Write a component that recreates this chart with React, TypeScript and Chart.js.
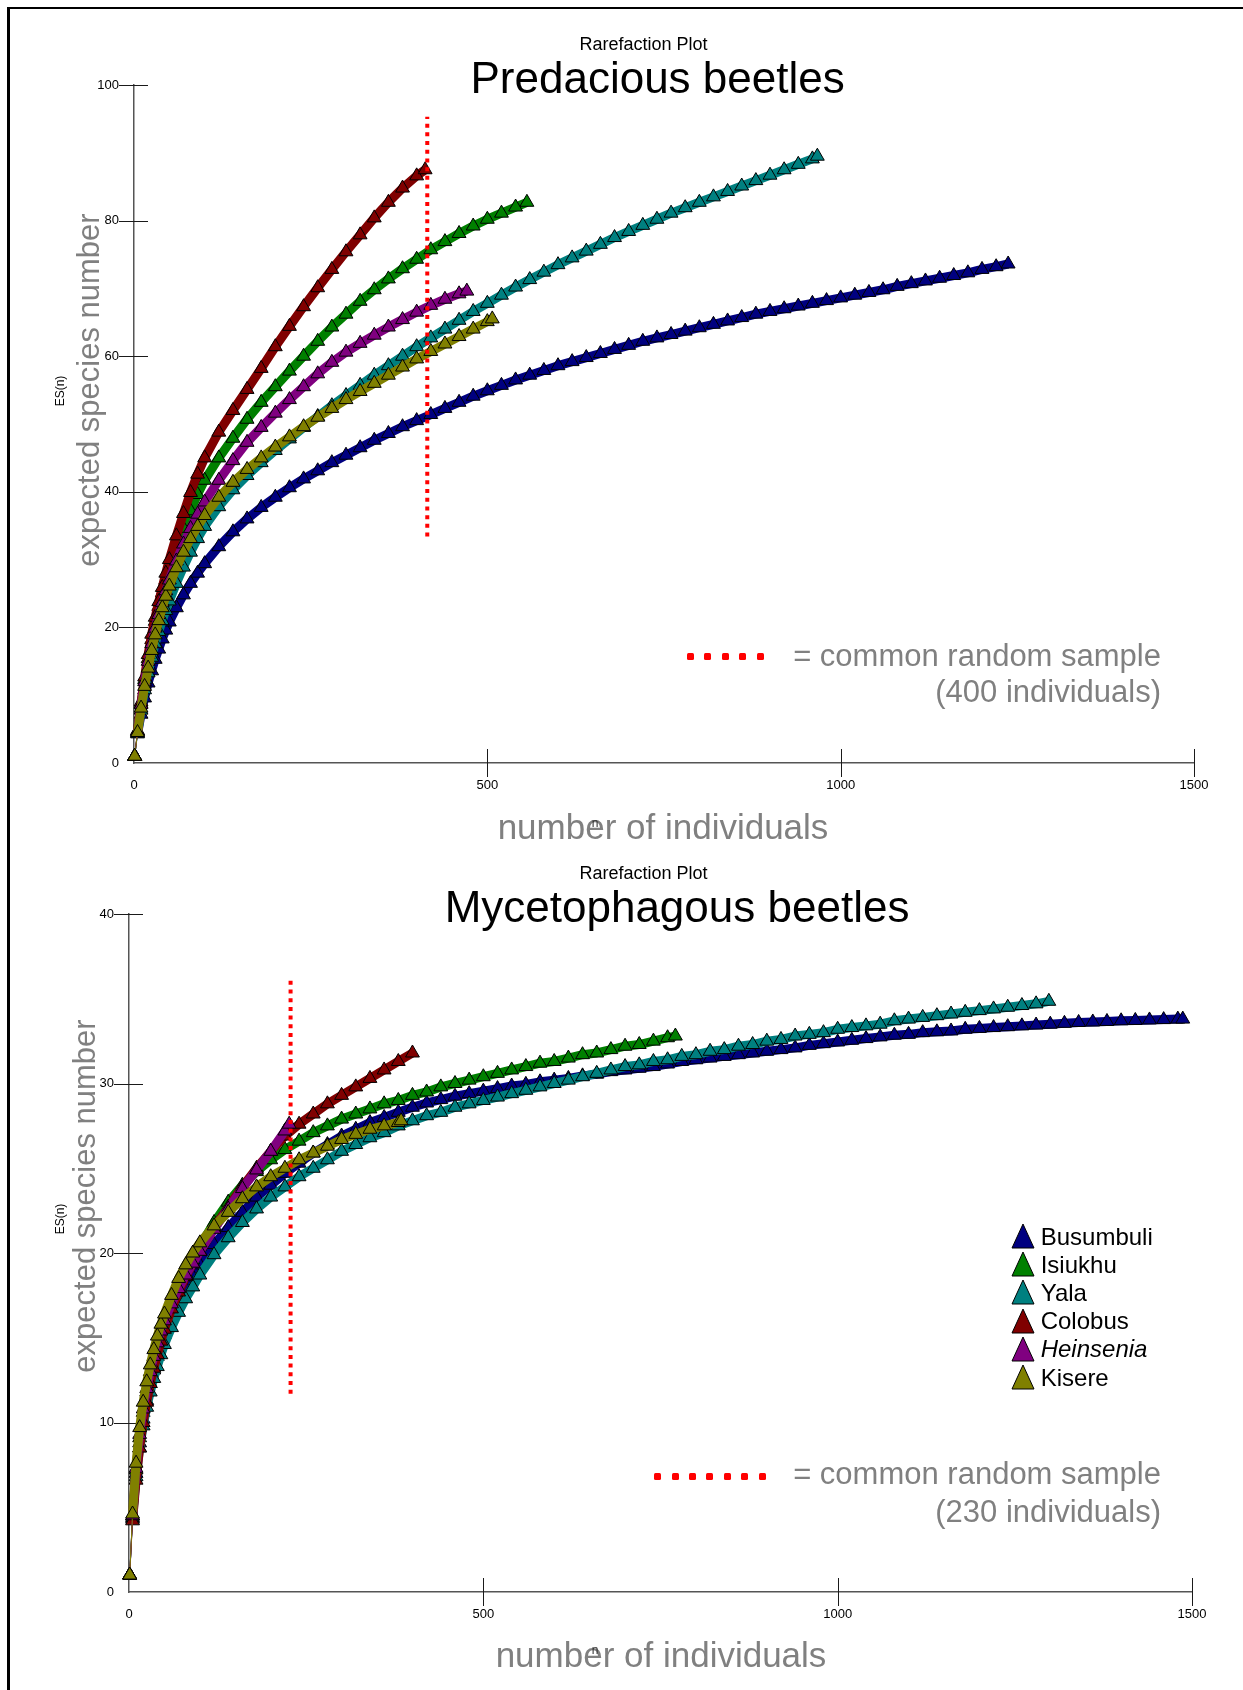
import React, { useEffect, useRef } from 'react';
import { Chart, registerables } from 'chart.js';

Chart.register(...registerables);

const FONT = '"Liberation Sans", Arial, Helvetica, sans-serif';
const GRAY = '#808080';

// ---------- shared ----------
const siteNames = ['Busumbuli', 'Isiukhu', 'Yala', 'Colobus', 'Heinsenia', 'Kisere'];
const siteColors = ['#000080', '#008000', '#008080', '#800000', '#800080', '#808000'];
const xTickValues = [0, 500, 1000, 1500];

// ---------- Predacious beetles ----------
const predYTickValues = [0, 20, 40, 60, 80, 100];
const predN = [1, 5, 10, 15, 20, 25, 30, 35, 40, 45, 50, 60, 70, 80, 90, 100,
  120, 140, 160, 180, 200, 220, 240, 260, 280, 300, 320, 340, 360, 380, 400, 420, 440, 460, 480, 500,
  520, 540, 560, 580, 600, 620, 640, 660, 680, 700, 720, 740, 760, 780, 800, 820, 840, 860, 880, 900,
  920, 940, 960, 980, 1000, 1020, 1040, 1060, 1080, 1100, 1120, 1140, 1160, 1180, 1200, 1220];
const predBusumbuli = [1, 4.3, 7.2, 9.6, 11.8, 13.6, 15.3, 16.8, 18.3, 19.6, 20.8, 22.9, 24.8, 26.5, 28.0, 29.4,
  31.9, 34.1, 36.0, 37.7, 39.2, 40.6, 41.9, 43.1, 44.3, 45.4, 46.5, 47.6, 48.6, 49.6, 50.5, 51.4, 52.3, 53.2, 54.1, 54.9,
  55.7, 56.5, 57.2, 57.9, 58.6, 59.2, 59.8, 60.4, 61.0, 61.6, 62.2, 62.7, 63.2, 63.7, 64.2, 64.7, 65.2, 65.7, 66.2, 66.6,
  67.0, 67.4, 67.8, 68.2, 68.6, 69.0, 69.4, 69.8, 70.3, 70.7, 71.1, 71.5, 71.9, 72.3, 72.8, 73.2];
const predIsiukhu = [1, 4.7, 8.7, 12.3, 15.4, 18.2, 20.9, 23.1, 25.1, 27.0, 28.7, 31.8, 34.6, 37.2, 39.6, 41.7,
  45.0, 47.9, 50.7, 53.2, 55.5, 57.8, 60.0, 62.2, 64.3, 66.2, 68.1, 69.8, 71.4, 72.9, 74.3, 75.7, 76.9, 78.1, 79.2, 80.2,
  81.1, 82.0];
const predYala = [1, 4.4, 7.8, 10.8, 13.3, 15.6, 17.6, 19.4, 21.0, 22.5, 23.9, 26.5, 28.9, 31.1, 33.1, 34.9,
  37.8, 40.3, 42.4, 44.3, 46.1, 47.8, 49.5, 51.1, 52.7, 54.2, 55.7, 57.2, 58.6, 60.0, 61.4, 62.7, 64.0, 65.3, 66.6, 67.8,
  69.0, 70.2, 71.3, 72.4, 73.5, 74.5, 75.5, 76.5, 77.5, 78.4, 79.3, 80.2, 81.1, 81.9, 82.7, 83.5, 84.3, 85.1, 85.9, 86.7,
  87.5, 88.3, 89.1];
const predColobus = [1, 4.8, 9.0, 12.7, 16.0, 19.0, 21.5, 23.8, 25.9, 28.0, 30.0, 33.5, 36.8, 39.9, 42.6, 45.0,
  48.8, 52.0, 55.1, 58.2, 61.4, 64.4, 67.3, 70.1, 72.8, 75.4, 77.9, 80.4, 82.7, 84.8, 86.6];
const predHeinsenia = [1, 4.6, 8.6, 12.0, 15.0, 17.6, 19.9, 21.9, 23.7, 25.4, 27.0, 29.8, 32.3, 34.6, 36.7, 38.5,
  41.7, 44.6, 47.3, 49.5, 51.6, 53.6, 55.5, 57.4, 59.1, 60.6, 61.9, 63.1, 64.3, 65.4, 66.5, 67.5, 68.4, 69.2];
const predKisere = [1, 4.5, 8.1, 11.3, 14.0, 16.6, 18.9, 21.0, 22.9, 24.6, 26.1, 28.8, 31.1, 33.1, 34.9, 36.5,
  39.2, 41.4, 43.3, 45.0, 46.6, 48.1, 49.6, 51.0, 52.3, 53.6, 54.8, 56.0, 57.2, 58.4, 59.6, 60.7, 61.8, 62.9, 64.0, 65.1];
const predEndN = [1237, 556, 967, 412, 471, 507];
const predEndES = [73.6, 82.7, 89.5, 87.5, 69.6, 65.5];
const predCommonN = 415;
const predCommonES = [33.4, 95.3];

// ---------- Mycetophagous beetles ----------
const mycoYTickValues = [0, 10, 20, 30, 40];
const mycoN = [1, 5, 10, 15, 20, 25, 30, 35, 40, 45, 50, 60, 70, 80, 90, 100,
  120, 140, 160, 180, 200, 220, 240, 260, 280, 300, 320, 340, 360, 380, 400, 420, 440, 460, 480, 500,
  520, 540, 560, 580, 600, 620, 640, 660, 680, 700, 720, 740, 760, 780, 800, 820, 840, 860, 880, 900,
  920, 940, 960, 980, 1000, 1020, 1040, 1060, 1080, 1100, 1120, 1140, 1160, 1180, 1200, 1220, 1240, 1260,
  1280, 1300, 1320, 1340, 1360, 1380, 1400, 1420, 1440, 1460, 1480];
const mycoBusumbuli = [1, 4.4, 7.0, 8.8, 10.2, 11.3, 12.3, 13.1, 13.9, 14.6, 15.2, 16.2, 17.1, 17.9, 18.6, 19.3,
  20.5, 21.5, 22.4, 23.3, 24.0, 24.7, 25.3, 25.9, 26.4, 26.9, 27.3, 27.7, 28.0, 28.3, 28.6, 28.85, 29.05, 29.25, 29.4, 29.55,
  29.7, 29.85, 29.95, 30.1, 30.2, 30.3, 30.45, 30.55, 30.7, 30.8, 30.9, 31.0, 31.15, 31.3, 31.4, 31.5, 31.6, 31.7, 31.8, 31.9,
  32.0, 32.1, 32.25, 32.35, 32.45, 32.55, 32.65, 32.75, 32.85, 32.9, 33.0, 33.05, 33.1, 33.2, 33.25, 33.3, 33.35, 33.4,
  33.45, 33.5, 33.55, 33.6, 33.63, 33.66, 33.7, 33.72, 33.75, 33.77, 33.8];
const mycoIsiukhu = [1, 4.5, 7.2, 9.1, 10.6, 11.8, 12.8, 13.7, 14.5, 15.2, 15.8, 16.9, 17.9, 18.8, 19.6, 20.4,
  21.8, 23.0, 24.0, 24.8, 25.5, 26.1, 26.6, 27.1, 27.5, 27.9, 28.2, 28.5, 28.8, 29.0, 29.3, 29.5, 29.8, 30.0, 30.2, 30.4,
  30.6, 30.8, 31.0, 31.2, 31.3, 31.5, 31.7, 31.8, 32.0, 32.2, 32.3, 32.5, 32.7];
const mycoYala = [1, 4.3, 6.8, 8.5, 9.8, 10.9, 11.8, 12.6, 13.3, 14.0, 14.6, 15.6, 16.5, 17.3, 18.0, 18.7,
  19.9, 20.9, 21.8, 22.6, 23.3, 23.9, 24.5, 25.0, 25.5, 26.0, 26.4, 26.8, 27.1, 27.5, 27.8, 28.1, 28.3, 28.6, 28.8, 29.0,
  29.2, 29.4, 29.6, 29.8, 30.0, 30.2, 30.4, 30.6, 30.8, 31.0, 31.1, 31.3, 31.4, 31.6, 31.7, 31.9, 32.0, 32.2, 32.3, 32.5,
  32.6, 32.8, 32.9, 33.0, 33.2, 33.3, 33.4, 33.5, 33.7, 33.8, 33.9, 34.0, 34.1, 34.2, 34.3, 34.4, 34.5, 34.6, 34.7];
const mycoColobus = [1, 4.2, 6.6, 8.5, 10.0, 11.2, 12.3, 13.2, 14.0, 14.8, 15.5, 16.7, 17.7, 18.6, 19.4, 20.1,
  21.5, 22.7, 23.9, 25.0, 26.0, 26.9, 27.6, 28.2, 28.8, 29.3, 29.8, 30.3, 30.8, 31.3];
const mycoHeinsenia = [1, 4.5, 7.3, 9.3, 10.8, 12.0, 13.0, 13.9, 14.7, 15.4, 16.0, 17.0, 17.9, 18.7, 19.4, 20.1,
  21.4, 22.6, 23.8, 24.9, 26.0, 27.2];
const mycoKisere = [1, 4.6, 7.6, 9.7, 11.2, 12.4, 13.4, 14.3, 15.1, 15.8, 16.4, 17.5, 18.5, 19.3, 20.0, 20.6,
  21.6, 22.4, 23.2, 23.9, 24.5, 25.0, 25.5, 25.9, 26.3, 26.7, 27.0, 27.3, 27.5, 27.7];
const mycoEndN = [1487, 771, 1298, 400, 226, 384];
const mycoEndES = [33.8, 32.8, 34.85, 31.8, 27.6, 27.8];
const mycoCommonN = 228;
const mycoCommonES = [11.7, 36.3];

type Panel = {
  n: number[];
  series: number[][];
  endN: number[];
  endES: number[];
  yTicks: number[];
  commonN: number;
  commonES: number[];
  width: number;
  height: number;
  pad: { left: number; top: number; right: number; bottom: number };
  yAxisWidth: number;
  xAxisHeight: number;
};

const predPanel: Panel = {
  n: predN,
  series: [predBusumbuli, predIsiukhu, predYala, predColobus, predHeinsenia, predKisere],
  endN: predEndN,
  endES: predEndES,
  yTicks: predYTickValues,
  commonN: predCommonN,
  commonES: predCommonES,
  width: 1243,
  height: 850,
  pad: { left: 0, top: 85, right: 49, bottom: 47 },
  yAxisWidth: 134,
  xAxisHeight: 40,
};

const mycoPanel: Panel = {
  n: mycoN,
  series: [mycoBusumbuli, mycoIsiukhu, mycoYala, mycoColobus, mycoHeinsenia, mycoKisere],
  endN: mycoEndN,
  endES: mycoEndES,
  yTicks: mycoYTickValues,
  commonN: mycoCommonN,
  commonES: mycoCommonES,
  width: 1243,
  height: 840,
  pad: { left: 0, top: 64, right: 51, bottom: 58 },
  yAxisWidth: 129,
  xAxisHeight: 40,
};

const crossTicks = {
  id: 'crossTicks',
  beforeDatasetsDraw(chart: any) {
    const ctx = chart.ctx;
    const area = chart.chartArea;
    const xs = chart.scales.x;
    const ys = chart.scales.y;
    ctx.save();
    ctx.strokeStyle = '#1a1a1a';
    ctx.lineWidth = 1;
    ctx.beginPath();
    ys.ticks.forEach((t: any) => {
      if (t.value === 0) return;
      const py = Math.round(ys.getPixelForValue(t.value)) + 0.5;
      ctx.moveTo(area.left - 15, py);
      ctx.lineTo(area.left + 14, py);
    });
    xs.ticks.forEach((t: any) => {
      if (t.value === 0) return;
      const px = Math.round(xs.getPixelForValue(t.value)) + 0.5;
      ctx.moveTo(px, area.bottom - 14);
      ctx.lineTo(px, area.bottom + 14);
    });
    ctx.stroke();
    ctx.restore();
  },
};

function RareChart({ panel, top }: { panel: Panel; top: number }) {
  const ref = useRef<HTMLCanvasElement>(null);
  useEffect(() => {
    if (!ref.current) return;
    const datasets: any[] = panel.series.map((ys, i) => {
      const pts = ys.map((y, j) => ({ x: panel.n[j], y }));
      pts.push({ x: panel.endN[i], y: panel.endES[i] });
      return {
        label: siteNames[i],
        data: pts,
        showLine: true,
        borderColor: siteColors[i],
        backgroundColor: siteColors[i],
        borderWidth: 9,
        borderJoinStyle: 'round',
        borderCapStyle: 'butt',
        segment: {
          borderWidth: (c: any) => (c.p0DataIndex === 0 ? 1 : 9),
        },
        pointStyle: 'triangle',
        pointRadius: 8,
        pointHoverRadius: 8,
        pointBackgroundColor: siteColors[i],
        pointBorderColor: '#000000',
        pointBorderWidth: 1,
        clip: false,
        order: siteNames.length - i,
      };
    });
    datasets.push({
      label: 'common random sample',
      data: [
        { x: panel.commonN, y: panel.commonES[0] },
        { x: panel.commonN, y: panel.commonES[1] },
      ],
      showLine: true,
      borderColor: '#ff0000',
      borderWidth: 4,
      borderDash: [4, 4.7],
      borderCapStyle: 'butt',
      pointRadius: 0,
      pointHoverRadius: 0,
      clip: false,
      order: 0,
    });
    const yMax = panel.yTicks[panel.yTicks.length - 1];
    const chart = new Chart(ref.current, {
      type: 'scatter',
      data: { datasets },
      plugins: [crossTicks],
      options: {
        responsive: false,
        animation: false,
        events: [],
        layout: { padding: panel.pad },
        plugins: { legend: { display: false }, tooltip: { enabled: false }, title: { display: false } },
        scales: {
          x: {
            type: 'linear',
            min: xTickValues[0],
            max: xTickValues[xTickValues.length - 1],
            afterBuildTicks: (s: any) => { s.ticks = xTickValues.map((v) => ({ value: v })); },
            afterFit: (s: any) => { s.height = panel.xAxisHeight; },
            grid: { display: false, drawTicks: false },
            border: { display: true, color: '#555555', width: 1.5 },
            ticks: {
              padding: 15,
              autoSkip: false,
              maxRotation: 0,
              color: '#000000',
              font: { family: FONT, size: 13 },
              callback: (v: any) => String(v),
            },
          },
          y: {
            type: 'linear',
            min: panel.yTicks[0],
            max: yMax,
            afterBuildTicks: (s: any) => { s.ticks = panel.yTicks.map((v) => ({ value: v })); },
            afterFit: (s: any) => { s.width = panel.yAxisWidth; },
            grid: { display: false, drawTicks: false },
            border: { display: true, color: '#555555', width: 1.5 },
            ticks: {
              padding: 15,
              autoSkip: false,
              color: '#000000',
              font: { family: FONT, size: 13 },
              callback: (v: any) => String(v),
            },
          },
        },
      } as any,
    });
    return () => chart.destroy();
  }, [panel]);
  return (
    <canvas
      ref={ref}
      width={panel.width}
      height={panel.height}
      style={{ position: 'absolute', left: 0, top, width: panel.width, height: panel.height }}
    />
  );
}

function Txt({ x, baseline, size, text, align = 'left', color = '#000', italic = false }: any) {
  const shift = align === 'center' ? 'translateX(-50%)' : align === 'right' ? 'translateX(-100%)' : 'none';
  return (
    <div
      style={{
        position: 'absolute',
        left: x,
        top: baseline - 0.8465 * size,
        fontSize: size,
        lineHeight: 1,
        whiteSpace: 'nowrap',
        color,
        fontStyle: italic ? 'italic' : 'normal',
        transform: shift,
      }}
    >
      {text}
    </div>
  );
}

function VTxt({ cx, cy, size, text, color = '#000' }: any) {
  return (
    <div
      style={{
        position: 'absolute',
        left: cx,
        top: cy,
        fontSize: size,
        lineHeight: 1,
        whiteSpace: 'nowrap',
        color,
        transform: 'translate(-50%, -50%) rotate(-90deg)',
      }}
    >
      {text}
    </div>
  );
}

function Dots({ x0, step, y, count }: any) {
  const items = [];
  for (let i = 0; i < count; i++) {
    items.push(
      <div
        key={i}
        style={{
          position: 'absolute',
          left: x0 + i * step - 3.5,
          top: y - 3.5,
          width: 7,
          height: 7,
          borderRadius: 1.5,
          background: '#ff0000',
        }}
      />
    );
  }
  return <>{items}</>;
}

function Legend() {
  const rows = siteNames.map((name, i) => {
    const cy = 1236 + i * 28.2;
    return (
      <React.Fragment key={name}>
        <svg
          width={24}
          height={26}
          style={{ position: 'absolute', left: 1022.7 - 12, top: cy - 13 }}
        >
          <polygon points="12,1 23,25 1,25" fill={siteColors[i]} stroke="#000" strokeWidth={1} />
        </svg>
        <Txt x={1040.7} baseline={cy + 9} size={24} text={name} italic={name === 'Heinsenia'} />
      </React.Fragment>
    );
  });
  return <>{rows}</>;
}

export default function App() {
  return (
    <div
      style={{
        position: 'fixed',
        left: 0,
        top: 0,
        width: 1243,
        height: 1690,
        overflow: 'hidden',
        background: '#ffffff',
        fontFamily: FONT,
      }}
    >
      <div
        style={{
          position: 'absolute',
          left: 7,
          top: 7,
          width: 1400,
          height: 1800,
          borderLeft: '3px solid #000',
          borderTop: '2px solid #000',
        }}
      />
      <RareChart panel={predPanel} top={0} />
      <RareChart panel={mycoPanel} top={850} />

      {/* top panel texts */}
      <Txt x={643.6} baseline={50.7} size={18} text="Rarefaction Plot" align="center" />
      <Txt x={657.6} baseline={93.3} size={44} text="Predacious beetles" align="center" />
      <VTxt cx={88.3} cy={389.7} size={31} text="expected species number" color={GRAY} />
      <VTxt cx={60.3} cy={390.5} size={12} text="ES(n)" />
      <Txt x={663} baseline={838.3} size={35} text="number of individuals" align="center" color={GRAY} />
      <Txt x={595} baseline={827} size={12} text="n" align="center" color="#333" />
      <Dots x0={690} step={17.5} y={656.5} count={5} />
      <Txt x={1161} baseline={666} size={31} text="= common random sample" align="right" color={GRAY} />
      <Txt x={1161} baseline={702.5} size={31} text="(400 individuals)" align="right" color={GRAY} />

      {/* bottom panel texts */}
      <Txt x={643.6} baseline={879.7} size={18} text="Rarefaction Plot" align="center" />
      <Txt x={677} baseline={922.3} size={44} text="Mycetophagous beetles" align="center" />
      <VTxt cx={84.3} cy={1195.5} size={31} text="expected species number" color={GRAY} />
      <VTxt cx={60.3} cy={1218.5} size={12} text="ES(n)" />
      <Txt x={661} baseline={1666.7} size={35} text="number of individuals" align="center" color={GRAY} />
      <Txt x={595} baseline={1654} size={12} text="n" align="center" color="#333" />
      <Dots x0={657.6} step={17.4} y={1476} count={7} />
      <Txt x={1161} baseline={1484} size={31} text="= common random sample" align="right" color={GRAY} />
      <Txt x={1161} baseline={1522} size={31} text="(230 individuals)" align="right" color={GRAY} />
      <Legend />
    </div>
  );
}
